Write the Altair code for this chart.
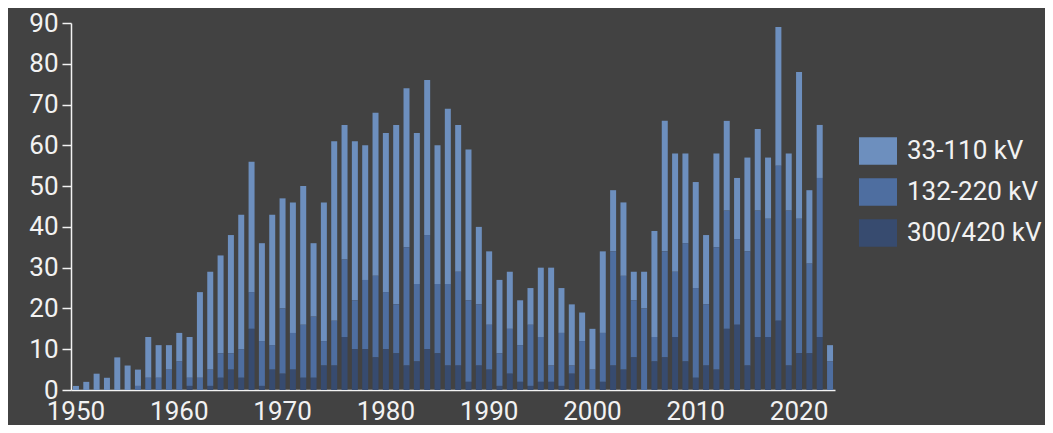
import altair as alt
import pandas as pd

years = list(range(1950, 2024))

# 33-110 kV (top segment)
kv33_110 = [1, 2, 4, 3, 8, 6, 4, 10, 8, 6,
            7, 10, 21, 24, 24, 29, 33, 32, 24, 32,
            27, 32, 34, 18, 34, 44, 33, 39, 33, 40,
            39, 44, 39, 37, 38, 34, 43, 36, 37, 19,
            18, 18, 14, 11, 9, 17, 24, 11, 15, 7,
            10, 20, 15, 18, 7, 9, 26, 32, 29, 22,
            26, 17, 23, 22, 15, 23, 20, 15, 34, 14,
            36, 18, 13, 4]
# 132-220 kV (middle segment)
kv132_220 = [0, 0, 0, 0, 0, 0, 1, 3, 3, 5,
             7, 2, 3, 4, 6, 4, 7, 9, 11, 6,
             16, 9, 13, 15, 6, 11, 19, 12, 17, 20,
             14, 12, 29, 19, 28, 17, 20, 23, 20, 15,
             11, 8, 11, 9, 15, 11, 4, 13, 2, 12,
             5, 12, 28, 23, 14, 20, 6, 26, 16, 29,
             22, 15, 30, 29, 21, 28, 31, 29, 38, 38,
             33, 22, 39, 7]
# 300/420 kV (bottom segment)
kv300_420 = [0, 0, 0, 0, 0, 0, 0, 0, 0, 0,
             0, 1, 0, 1, 3, 5, 3, 15, 1, 5,
             4, 5, 3, 3, 6, 6, 13, 10, 10, 8,
             10, 9, 6, 7, 10, 9, 6, 6, 2, 6,
             5, 1, 4, 2, 1, 2, 2, 1, 4, 0,
             0, 2, 6, 5, 8, 0, 7, 8, 13, 7,
             3, 6, 5, 15, 16, 6, 13, 13, 17, 6,
             9, 9, 13, 0]

series_names = ["33-110 kV", "132-220 kV", "300/420 kV"]
series_colors = ["#6d8fbe", "#4e6ea0", "#374b6f"]
label_years = [1950, 1960, 1970, 1980, 1990, 2000, 2010, 2020]

rows = []
for name, vals, order in [(series_names[0], kv33_110, 2),
                          (series_names[1], kv132_220, 1),
                          (series_names[2], kv300_420, 0)]:
    for y, v in zip(years, vals):
        rows.append({"year": y, "series": name, "value": v, "ord": order})
df = pd.DataFrame(rows)

text_color = "#f2f2f2"
font = "Roboto"

chart = alt.Chart(df).mark_bar().encode(
    x=alt.X("year:O",
            scale=alt.Scale(paddingInner=0.42, paddingOuter=0.19),
            axis=alt.Axis(title=None, values=label_years, labelAngle=0,
                          ticks=False, labelPadding=8, labelFontSize=26,
                          labelFont=font, labelColor=text_color,
                          domainColor=text_color, domainWidth=1.5)),
    y=alt.Y("value:Q", stack="zero",
            scale=alt.Scale(domain=[0, 90], nice=False),
            axis=alt.Axis(title=None, values=list(range(0, 100, 10)),
                          grid=False, tickSize=9, tickColor=text_color,
                          tickWidth=1.5, labelPadding=4, labelFontSize=26,
                          labelFont=font, labelColor=text_color,
                          domainColor=text_color, domainWidth=1.5)),
    color=alt.Color("series:N",
                    scale=alt.Scale(domain=series_names, range=series_colors),
                    legend=alt.Legend(title=None, orient="none",
                                      legendX=788, legendY=109,
                                      symbolType="M-1,-0.73L1,-0.73L1,0.73L-1,0.73Z",
                                      symbolSize=1444, symbolStrokeWidth=0,
                                      symbolOpacity=1,
                                      labelFontSize=26, labelFont=font,
                                      labelColor=text_color, labelOffset=10,
                                      rowPadding=8, labelLimit=300)),
    order=alt.Order("ord:Q", sort="ascending"),
).properties(
    width=764,
    height=367,
    background="#424242",
    padding={"left": 63, "top": 15, "right": 210, "bottom": 35},
    autosize=alt.AutoSizeParams(type="none"),
).configure_view(
    stroke=None
)

chart.save("out.html", embed_options={"renderer": "svg", "actions": False})
